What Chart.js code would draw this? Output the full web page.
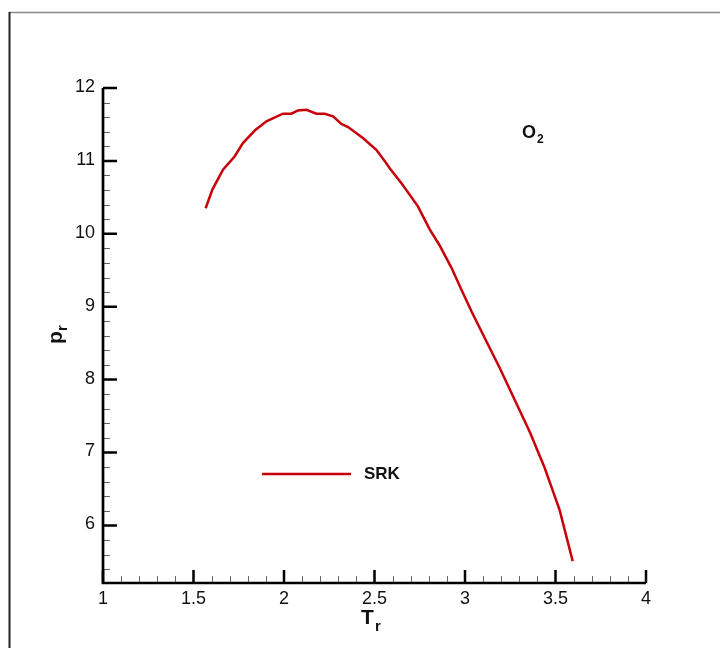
<!DOCTYPE html>
<html>
<head>
<meta charset="utf-8">
<script src="https://cdn.jsdelivr.net/npm/chart.js@4/dist/chart.umd.min.js"></script>
<style>
  html, body { margin: 0; padding: 0; background: #fff; }
  #wrap { position: relative; width: 720px; height: 648px; }
</style>
</head>
<body>
<div id="wrap"><canvas id="chart" width="720" height="648"></canvas></div>
<script>
// reduced temperature / reduced pressure
const trValues = [1.567, 1.605, 1.663, 1.727, 1.773, 1.84, 1.903, 1.994, 2.041, 2.077, 2.124, 2.179, 2.225, 2.271, 2.317, 2.354, 2.436, 2.510, 2.556, 2.584, 2.650, 2.739, 2.805, 2.860, 2.926, 2.981, 3.037, 3.109, 3.192, 3.275, 3.358, 3.440, 3.523, 3.595];
const prValues = [10.35, 10.61, 10.88, 11.06, 11.245, 11.42, 11.542, 11.647, 11.647, 11.692, 11.702, 11.647, 11.647, 11.61, 11.506, 11.465, 11.314, 11.153, 11.0, 10.90, 10.69, 10.38, 10.06, 9.84, 9.53, 9.23, 8.93, 8.57, 8.16, 7.72, 7.28, 6.79, 6.21, 5.51];
const seriesName = "SRK";
const speciesMain = "O";
const speciesSub = "2";

const xMajor = [1, 1.5, 2, 2.5, 3, 3.5, 4];
const xLabels = ["1", "1.5", "2", "2.5", "3", "3.5", "4"];
const yMajor = [6, 7, 8, 9, 10, 11, 12];
const yLabels = ["6", "7", "8", "9", "10", "11", "12"];

const points = trValues.map((t, i) => ({ x: t, y: prValues[i] }));

// draws frame, axes, inward ticks, labels, legend and the O2 note
const decorations = {
  id: "decorations",
  beforeDraw(chart) {
    const ctx = chart.ctx;
    ctx.save();
    ctx.fillStyle = "#fff";
    ctx.fillRect(0, 0, chart.width, chart.height);
    ctx.strokeStyle = "#8a8a8a";
    ctx.lineWidth = 1.5;
    ctx.beginPath();
    ctx.moveTo(9, 12.5);
    ctx.lineTo(720, 12.5);
    ctx.stroke();
    ctx.strokeStyle = "#222";
    ctx.lineWidth = 2;
    ctx.beginPath();
    ctx.moveTo(9.5, 12);
    ctx.lineTo(9.5, 648);
    ctx.stroke();
    ctx.restore();
  },
  afterDraw(chart) {
    const ctx = chart.ctx;
    const xs = chart.scales.x, ys = chart.scales.y;
    const left = xs.left, right = xs.right, top = ys.top, bottom = ys.bottom;
    ctx.save();

    // minor ticks
    ctx.strokeStyle = "#666";
    ctx.lineWidth = 1;
    ctx.beginPath();
    for (let k = 11; k < 40; k++) {
      if (k % 5 === 0) continue;
      const px = Math.round(xs.getPixelForValue(k / 10)) + 0.5;
      ctx.moveTo(px, bottom);
      ctx.lineTo(px, bottom - 7);
    }
    for (let k = 27; k < 60; k++) {
      if (k % 5 === 0) continue;
      const v = k / 5;
      if (v < ys.min) continue;
      const py = Math.round(ys.getPixelForValue(v)) + 0.5;
      ctx.moveTo(left, py);
      ctx.lineTo(left + 7, py);
    }
    ctx.stroke();

    // major ticks
    ctx.strokeStyle = "#000";
    ctx.lineWidth = 2.5;
    ctx.beginPath();
    xMajor.forEach(v => {
      const px = xs.getPixelForValue(v);
      ctx.moveTo(px, bottom);
      ctx.lineTo(px, bottom - 13);
    });
    yMajor.forEach(v => {
      const py = ys.getPixelForValue(v);
      ctx.moveTo(left, py);
      ctx.lineTo(left + 14, py);
    });
    ctx.stroke();

    // axis lines
    ctx.lineWidth = 2.7;
    ctx.beginPath();
    ctx.moveTo(left, top);
    ctx.lineTo(left, bottom);
    ctx.lineTo(right, bottom);
    ctx.stroke();

    // tick labels
    ctx.fillStyle = "#111";
    ctx.font = "18px 'Liberation Sans', Arial, sans-serif";
    ctx.textAlign = "center";
    ctx.textBaseline = "alphabetic";
    xMajor.forEach((v, i) => {
      ctx.fillText(xLabels[i], xs.getPixelForValue(v), bottom + 21);
    });
    ctx.textAlign = "right";
    ctx.textBaseline = "middle";
    yMajor.forEach((v, i) => {
      ctx.fillText(yLabels[i], left - 8, ys.getPixelForValue(v) - 1);
    });

    // x axis title T_r
    ctx.textAlign = "left";
    ctx.textBaseline = "alphabetic";
    ctx.font = "bold 21px 'Liberation Sans', Arial, sans-serif";
    ctx.fillText("T", 361, 624);
    ctx.font = "bold 15px 'Liberation Sans', Arial, sans-serif";
    ctx.fillText("r", 375, 631);

    // y axis title p_r (rotated)
    ctx.save();
    ctx.translate(62, 344);
    ctx.rotate(-Math.PI / 2);
    ctx.font = "bold 21px 'Liberation Sans', Arial, sans-serif";
    ctx.fillText("p", 0, 0);
    ctx.font = "bold 15px 'Liberation Sans', Arial, sans-serif";
    ctx.fillText("r", 13, 5);
    ctx.restore();

    // species note
    ctx.font = "bold 18px 'Liberation Sans', Arial, sans-serif";
    ctx.fillText(speciesMain, 522, 138);
    ctx.font = "bold 12px 'Liberation Sans', Arial, sans-serif";
    ctx.fillText(speciesSub, 537, 143);

    // legend
    const ds = chart.data.datasets[0];
    ctx.strokeStyle = ds.borderColor;
    ctx.lineWidth = ds.borderWidth;
    ctx.beginPath();
    ctx.moveTo(262, 474);
    ctx.lineTo(351, 474);
    ctx.stroke();
    ctx.fillStyle = "#111";
    ctx.font = "bold 17px 'Liberation Sans', Arial, sans-serif";
    ctx.textBaseline = "middle";
    ctx.fillText(ds.label, 364, 474);

    ctx.restore();
  }
};

new Chart(document.getElementById("chart"), {
  type: "scatter",
  data: {
    datasets: [{
      label: seriesName,
      data: points,
      showLine: true,
      borderColor: "#c8000a",
      borderWidth: 2.5,
      pointRadius: 0,
      tension: 0,
      fill: false
    }]
  },
  options: {
    responsive: false,
    animation: false,
    layout: { padding: { left: 103, right: 74, top: 88, bottom: 65 } },
    plugins: { legend: { display: false }, tooltip: { enabled: false } },
    scales: {
      x: {
        type: "linear", min: 1, max: 4,
        display: false
      },
      y: {
        type: "linear", min: 5.21, max: 12,
        display: false
      }
    }
  },
  plugins: [decorations]
});
</script>
</body>
</html>
